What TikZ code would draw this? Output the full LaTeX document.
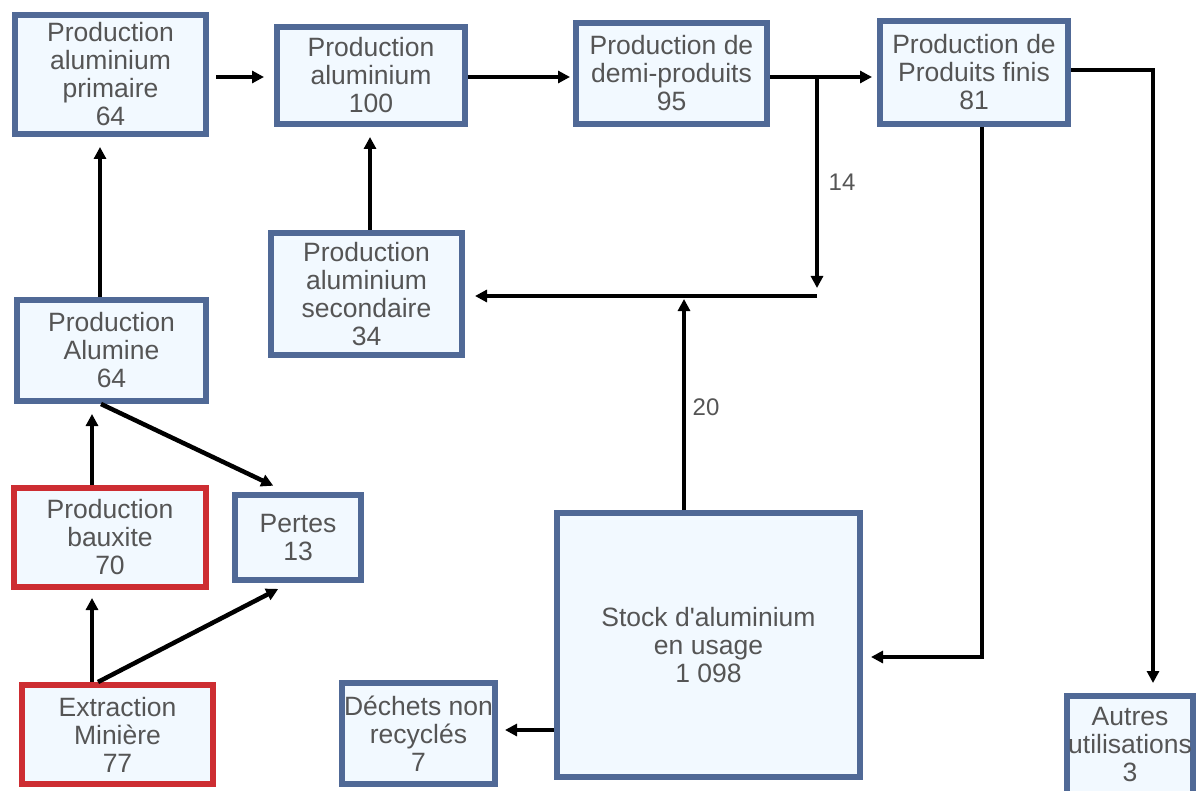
\documentclass[tikz,border=0pt]{standalone}
\usepackage{fontspec}
\setmainfont{Liberation Sans}
\usetikzlibrary{arrows.meta,calc}
\definecolor{boxblue}{RGB}{80,105,150}
\definecolor{boxred}{RGB}{205,45,50}
\definecolor{boxfill}{RGB}{242,249,255}
\definecolor{txtgray}{RGB}{85,85,85}
\tikzset{
  box/.style={draw=boxblue, line width=6pt, fill=boxfill, text=txtgray, align=center,
    font=\fontsize{26.5}{28}\selectfont, inner sep=0pt, rectangle},
  redbox/.style={box, draw=boxred},
  arr/.style={line width=4.5pt, -{Triangle[length=12pt,width=12pt]}},
  flowlabel/.style={text=txtgray, font=\fontsize{24}{28}\selectfont},
}
\begin{document}
\begin{tikzpicture}[x=1pt,y=-1pt]
\useasboundingbox[fill=white] (0,0) rectangle (1198,791);
% nodes
\node[box, minimum width=191pt, minimum height=119pt] (A) at (110.5,74.5) {Production\\aluminium\\primaire\\64};
\node[box, minimum width=188pt, minimum height=97pt] (B) at (371,75.5) {Production\\aluminium\\100};
\node[box, minimum width=191pt, minimum height=101pt] (C) at (671.5,73.5) {Production de\\demi-produits\\95};
\node[box, minimum width=188pt, minimum height=103pt] (D) at (974,72.5) {Production de\\Produits finis\\81};
\node[box, minimum width=191pt, minimum height=122pt] (E) at (366.5,294) {Production\\aluminium\\secondaire\\34};
\node[box, minimum width=189pt, minimum height=101pt] (F) at (111.5,350.5) {Production\\Alumine\\64};
\node[redbox, minimum width=192pt, minimum height=99pt] (G) at (110,537.5) {Production\\bauxite\\70};
\node[box, minimum width=126pt, minimum height=85pt] (H) at (298,537.5) {Pertes\\13};
\node[redbox, minimum width=191pt, minimum height=99pt] (I) at (117.5,734.5) {Extraction\\Minière\\77};
\node[box, minimum width=153pt, minimum height=101pt] (J) at (418.5,733.5) {Déchets non\\recyclés\\7};
\node[box, minimum width=303pt, minimum height=264pt] (K) at (708.5,645) {Stock d\textquotesingle aluminium\\en usage\\1 098};
\node[box, minimum width=126pt, minimum height=98pt] (L) at (1130,745) {Autres\\utilisations\\3};
% junction coordinates
\coordinate (j1) at (817,77);
\coordinate (j2) at (817,296);
\coordinate (j3) at (684,296);
\coordinate (ks) at (684,510);
\coordinate (dk) at (982,127);
\coordinate (dk2) at (982,657);
\coordinate (dl) at (1153,70);
% connectors
\draw[arr, shorten <=7pt, shorten >=10pt] (A.east |- 0,77) -- (B.west |- 0,77);
\draw[arr, shorten >=3pt] (B.east |- 0,77) -- (C.west |- 0,77);
\draw[arr, shorten >=5pt] (C.east |- 0,77) -- (D.west |- 0,77);
\draw[arr, shorten >=8pt] (j1) -- (j2);
\draw[arr, shorten >=10pt] (j2) -- (E.east |- j2);
\draw[arr, shorten >=3pt] (ks) -- (j3);
\draw[arr, shorten >=10pt] (E.north -| 370,0) -- (B.south -| 370,0);
\draw[arr, shorten >=10pt] (F.north -| 100,0) -- (A.south -| 100,0);
\draw[arr, shorten >=10pt] (G.north -| 92,0) -- (F.south -| 92,0);
\draw[arr, shorten >=8pt] (I.north -| 92,0) -- (G.south -| 92,0);
\draw[arr, shorten >=3pt] (F.south -| 101,0) -- (276,487);
\draw[arr, shorten >=2pt] (I.north -| 98,0) -- (280,588);
\draw[arr, shorten >=8pt] (dk) -- (dk2) -- (K.east |- dk2);
\draw[arr, shorten >=10pt] (D.east |- dl) -- (dl) -- (L.north -| dl);
\draw[arr, shorten >=7pt] (K.west |- 0,730) -- (J.east |- 0,730);
% labels
\node[flowlabel] (l14) at (842,182) {14};
\node[flowlabel] (l20) at (706,407) {20};
\end{tikzpicture}
\end{document}
